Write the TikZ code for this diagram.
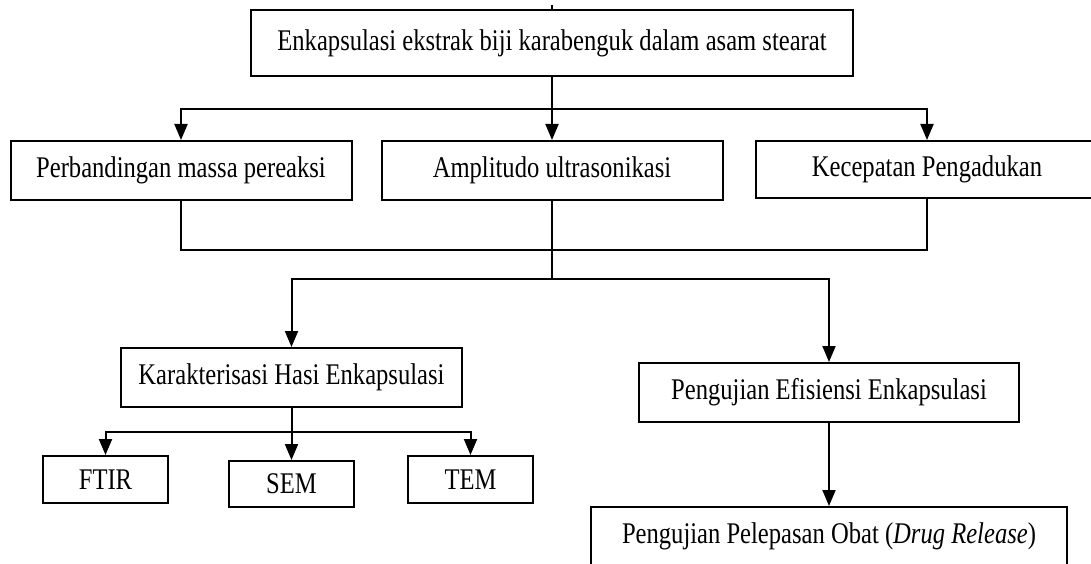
\documentclass[tikz,border=0pt]{standalone}
\usepackage{fontspec}
\setmainfont{Liberation Serif}[FakeStretch=0.82]
\usepackage{tikz}
\usetikzlibrary{arrows.meta}
\tikzstyle{blok}=[draw=black, line width=2pt, inner sep=0pt, minimum height=59pt,
  align=center, font=\fontsize{30}{36}\selectfont]
\tikzstyle{garis}=[line width=2pt]
\tikzstyle{panah}=[-{Triangle[length=16pt,width=13pt]}, line width=2pt]

\begin{document}
\begin{tikzpicture}[x=1pt,y=-1pt]
\useasboundingbox (0,0) rectangle (1091,564);
% judul
\node[blok, minimum width=602pt, minimum height=66pt] (enkap) at (552,43)
  {Enkapsulasi ekstrak biji karabenguk dalam asam stearat};
% variabel
\node[blok, minimum width=341pt] (massa) at (181,170.5) {Perbandingan massa pereaksi};
\node[blok, minimum width=341pt] (ampli) at (552,170.5) {Amplitudo ultrasonikasi};
\node[blok, minimum width=342pt, minimum height=57pt] (aduk) at (927,169.5) {Kecepatan Pengadukan};
% hasil
\node[blok, minimum width=341pt] (karak) at (291.5,377.5) {Karakterisasi Hasi Enkapsulasi};
\node[blok, minimum width=380pt] (efis) at (829,392.5) {Pengujian Efisiensi Enkapsulasi};
\node[blok, minimum width=125pt, minimum height=47pt] (ftir) at (105.5,479.5) {FTIR};
\node[blok, minimum width=125pt, minimum height=46pt] (sem) at (291.5,484) {SEM};
\node[blok, minimum width=125pt, minimum height=47pt] (tem) at (470.5,479.5) {TEM};
\node[blok, minimum width=476pt] (drug) at (829,536.5)
  {Pengujian Pelepasan Obat (\textit{Drug Release})};
% sambungan
\coordinate (s0) at (552,5);
\coordinate (j1) at (552,109);
\coordinate (j2) at (552,250);
\coordinate (j3) at (552,279);
\coordinate (j4) at (291.5,432);
\draw[garis] (s0) -- (enkap.north);
\draw[garis] (enkap.south) -- (j1);
\draw[panah] (j1) -| (massa.north);
\draw[panah] (j1) -- (ampli.north);
\draw[panah] (j1) -| (aduk.north);
\draw[garis] (massa.south) |- (j2) -| (aduk.south);
\draw[garis] (ampli.south) -- (j3);
\draw[panah] (j3) -| (karak.north);
\draw[panah] (j3) -| (efis.north);
\draw[garis] (karak.south) -- (j4);
\draw[panah] (j4) -| (ftir.north);
\draw[panah] (j4) -- (sem.north);
\draw[panah] (j4) -| (tem.north);
\draw[panah] (efis.south) -- (drug.north);
\end{tikzpicture}
\end{document}
